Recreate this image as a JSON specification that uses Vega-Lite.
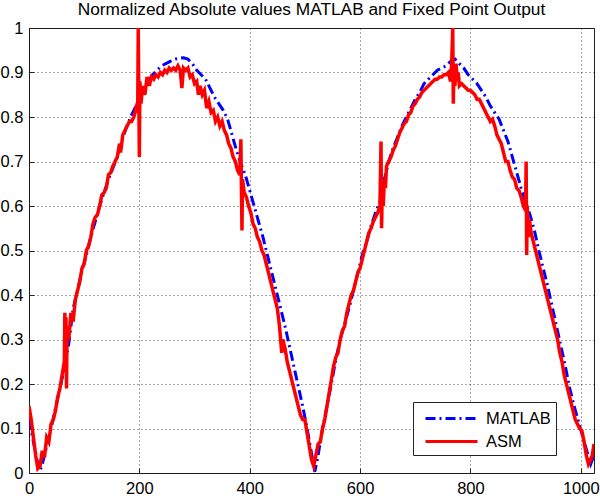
{
  "$schema": "https://vega.github.io/schema/vega-lite/v6.json",
  "width": 565,
  "height": 445,
  "autosize": {"type": "none"},
  "padding": {"left": 29, "top": 28, "right": 6, "bottom": 26},
  "background": "white",
  "title": {"text": "Normalized Absolute values MATLAB and Fixed Point Output", "fontSize": 17.3, "font": "Liberation Sans", "fontWeight": "normal", "color": "black", "offset": -12, "anchor": "middle", "baseline": "alphabetic", "frame": "group"},
  "config": {
    "view": {"stroke": "#222", "strokeWidth": 1},
    "axis": {"labelFont": "Liberation Sans", "labelFontSize": 16.5, "labelColor": "black", "domain": false, "grid": true, "gridColor": "#000", "gridDash": [1, 3], "gridOpacity": 0.7, "gridWidth": 1, "ticks": true, "tickSize": -5, "tickColor": "#222", "title": null}
  },
  "datasets": {
    "matlab": [
      {"series":"MATLAB","x":0,"y":0.12},{"series":"MATLAB","x":8,"y":0.07},{"series":"MATLAB","x":16,"y":0.02},{"series":"MATLAB","x":20,"y":0.005},{"series":"MATLAB","x":24,"y":0.02},{"series":"MATLAB","x":32,"y":0.06},{"series":"MATLAB","x":40,"y":0.1},{"series":"MATLAB","x":48,"y":0.145},{"series":"MATLAB","x":56,"y":0.19},{"series":"MATLAB","x":64,"y":0.235},{"series":"MATLAB","x":72,"y":0.29},{"series":"MATLAB","x":80,"y":0.37},{"series":"MATLAB","x":88,"y":0.41},{"series":"MATLAB","x":96,"y":0.455},{"series":"MATLAB","x":104,"y":0.49},{"series":"MATLAB","x":112,"y":0.53},{"series":"MATLAB","x":120,"y":0.565},{"series":"MATLAB","x":128,"y":0.6},{"series":"MATLAB","x":136,"y":0.63},{"series":"MATLAB","x":144,"y":0.66},{"series":"MATLAB","x":152,"y":0.685},{"series":"MATLAB","x":160,"y":0.71},{"series":"MATLAB","x":168,"y":0.745},{"series":"MATLAB","x":176,"y":0.775},{"series":"MATLAB","x":184,"y":0.8},{"series":"MATLAB","x":192,"y":0.82},{"series":"MATLAB","x":200,"y":0.84},{"series":"MATLAB","x":208,"y":0.86},{"series":"MATLAB","x":216,"y":0.88},{"series":"MATLAB","x":224,"y":0.895},{"series":"MATLAB","x":232,"y":0.905},{"series":"MATLAB","x":240,"y":0.915},{"series":"MATLAB","x":248,"y":0.92},{"series":"MATLAB","x":256,"y":0.925},{"series":"MATLAB","x":264,"y":0.93},{"series":"MATLAB","x":272,"y":0.932},{"series":"MATLAB","x":280,"y":0.933},{"series":"MATLAB","x":288,"y":0.93},{"series":"MATLAB","x":296,"y":0.92},{"series":"MATLAB","x":304,"y":0.905},{"series":"MATLAB","x":312,"y":0.895},{"series":"MATLAB","x":320,"y":0.885},{"series":"MATLAB","x":328,"y":0.865},{"series":"MATLAB","x":336,"y":0.845},{"series":"MATLAB","x":344,"y":0.83},{"series":"MATLAB","x":352,"y":0.815},{"series":"MATLAB","x":360,"y":0.795},{"series":"MATLAB","x":368,"y":0.76},{"series":"MATLAB","x":376,"y":0.725},{"series":"MATLAB","x":384,"y":0.695},{"series":"MATLAB","x":392,"y":0.67},{"series":"MATLAB","x":400,"y":0.635},{"series":"MATLAB","x":408,"y":0.6},{"series":"MATLAB","x":416,"y":0.565},{"series":"MATLAB","x":424,"y":0.53},{"series":"MATLAB","x":432,"y":0.49},{"series":"MATLAB","x":440,"y":0.45},{"series":"MATLAB","x":448,"y":0.41},{"series":"MATLAB","x":456,"y":0.37},{"series":"MATLAB","x":464,"y":0.33},{"series":"MATLAB","x":472,"y":0.285},{"series":"MATLAB","x":480,"y":0.24},{"series":"MATLAB","x":488,"y":0.195},{"series":"MATLAB","x":496,"y":0.15},{"series":"MATLAB","x":504,"y":0.1},{"series":"MATLAB","x":512,"y":0.045},{"series":"MATLAB","x":518,"y":0.003},{"series":"MATLAB","x":524,"y":0.04},{"series":"MATLAB","x":532,"y":0.1},{"series":"MATLAB","x":540,"y":0.15},{"series":"MATLAB","x":548,"y":0.2},{"series":"MATLAB","x":556,"y":0.255},{"series":"MATLAB","x":564,"y":0.3},{"series":"MATLAB","x":572,"y":0.335},{"series":"MATLAB","x":580,"y":0.37},{"series":"MATLAB","x":588,"y":0.41},{"series":"MATLAB","x":596,"y":0.45},{"series":"MATLAB","x":604,"y":0.49},{"series":"MATLAB","x":612,"y":0.52},{"series":"MATLAB","x":620,"y":0.555},{"series":"MATLAB","x":628,"y":0.585},{"series":"MATLAB","x":636,"y":0.61},{"series":"MATLAB","x":644,"y":0.66},{"series":"MATLAB","x":652,"y":0.7},{"series":"MATLAB","x":660,"y":0.73},{"series":"MATLAB","x":668,"y":0.755},{"series":"MATLAB","x":676,"y":0.78},{"series":"MATLAB","x":684,"y":0.8},{"series":"MATLAB","x":692,"y":0.82},{"series":"MATLAB","x":700,"y":0.84},{"series":"MATLAB","x":708,"y":0.855},{"series":"MATLAB","x":716,"y":0.875},{"series":"MATLAB","x":724,"y":0.885},{"series":"MATLAB","x":732,"y":0.895},{"series":"MATLAB","x":740,"y":0.905},{"series":"MATLAB","x":748,"y":0.91},{"series":"MATLAB","x":756,"y":0.915},{"series":"MATLAB","x":764,"y":0.925},{"series":"MATLAB","x":772,"y":0.93},{"series":"MATLAB","x":780,"y":0.92},{"series":"MATLAB","x":788,"y":0.91},{"series":"MATLAB","x":796,"y":0.895},{"series":"MATLAB","x":804,"y":0.885},{"series":"MATLAB","x":812,"y":0.875},{"series":"MATLAB","x":820,"y":0.86},{"series":"MATLAB","x":828,"y":0.845},{"series":"MATLAB","x":836,"y":0.825},{"series":"MATLAB","x":844,"y":0.81},{"series":"MATLAB","x":852,"y":0.795},{"series":"MATLAB","x":860,"y":0.77},{"series":"MATLAB","x":868,"y":0.745},{"series":"MATLAB","x":876,"y":0.71},{"series":"MATLAB","x":884,"y":0.675},{"series":"MATLAB","x":892,"y":0.64},{"series":"MATLAB","x":900,"y":0.61},{"series":"MATLAB","x":908,"y":0.58},{"series":"MATLAB","x":916,"y":0.545},{"series":"MATLAB","x":924,"y":0.5},{"series":"MATLAB","x":932,"y":0.46},{"series":"MATLAB","x":940,"y":0.42},{"series":"MATLAB","x":948,"y":0.375},{"series":"MATLAB","x":956,"y":0.33},{"series":"MATLAB","x":964,"y":0.285},{"series":"MATLAB","x":972,"y":0.24},{"series":"MATLAB","x":980,"y":0.19},{"series":"MATLAB","x":988,"y":0.15},{"series":"MATLAB","x":996,"y":0.115},{"series":"MATLAB","x":1004,"y":0.08},{"series":"MATLAB","x":1012,"y":0.045},{"series":"MATLAB","x":1018,"y":0.02},{"series":"MATLAB","x":1024,"y":0.04}
    ],
    "asm": [
      {"series":"ASM","x":0,"y":0.15},{"series":"ASM","x":4,"y":0.12},{"series":"ASM","x":8,"y":0.08},{"series":"ASM","x":12,"y":0.04},{"series":"ASM","x":16,"y":0.01},{"series":"ASM","x":20,"y":0.015},{"series":"ASM","x":24,"y":0.05},{"series":"ASM","x":28,"y":0.035},{"series":"ASM","x":32,"y":0.08},{"series":"ASM","x":36,"y":0.07},{"series":"ASM","x":40,"y":0.11},{"series":"ASM","x":44,"y":0.12},{"series":"ASM","x":48,"y":0.14},{"series":"ASM","x":52,"y":0.17},{"series":"ASM","x":56,"y":0.19},{"series":"ASM","x":60,"y":0.22},{"series":"ASM","x":64,"y":0.25},{"series":"ASM","x":65,"y":0.36},{"series":"ASM","x":66,"y":0.26},{"series":"ASM","x":67,"y":0.35},{"series":"ASM","x":68,"y":0.19},{"series":"ASM","x":69,"y":0.33},{"series":"ASM","x":72,"y":0.3},{"series":"ASM","x":76,"y":0.36},{"series":"ASM","x":80,"y":0.34},{"series":"ASM","x":84,"y":0.39},{"series":"ASM","x":88,"y":0.41},{"series":"ASM","x":92,"y":0.43},{"series":"ASM","x":96,"y":0.46},{"series":"ASM","x":100,"y":0.47},{"series":"ASM","x":104,"y":0.5},{"series":"ASM","x":108,"y":0.51},{"series":"ASM","x":112,"y":0.53},{"series":"ASM","x":116,"y":0.56},{"series":"ASM","x":120,"y":0.575},{"series":"ASM","x":124,"y":0.58},{"series":"ASM","x":128,"y":0.6},{"series":"ASM","x":132,"y":0.625},{"series":"ASM","x":136,"y":0.63},{"series":"ASM","x":140,"y":0.64},{"series":"ASM","x":144,"y":0.67},{"series":"ASM","x":148,"y":0.675},{"series":"ASM","x":152,"y":0.69},{"series":"ASM","x":156,"y":0.7},{"series":"ASM","x":160,"y":0.71},{"series":"ASM","x":164,"y":0.74},{"series":"ASM","x":166,"y":0.72},{"series":"ASM","x":170,"y":0.76},{"series":"ASM","x":174,"y":0.77},{"series":"ASM","x":178,"y":0.78},{"series":"ASM","x":182,"y":0.79},{"series":"ASM","x":186,"y":0.79},{"series":"ASM","x":190,"y":0.8},{"series":"ASM","x":194,"y":0.82},{"series":"ASM","x":197,"y":0.81},{"series":"ASM","x":198,"y":1.0},{"series":"ASM","x":199,"y":0.85},{"series":"ASM","x":200,"y":0.71},{"series":"ASM","x":201,"y":0.88},{"series":"ASM","x":203,"y":0.83},{"series":"ASM","x":206,"y":0.87},{"series":"ASM","x":210,"y":0.85},{"series":"ASM","x":214,"y":0.89},{"series":"ASM","x":218,"y":0.87},{"series":"ASM","x":222,"y":0.89},{"series":"ASM","x":226,"y":0.885},{"series":"ASM","x":230,"y":0.895},{"series":"ASM","x":234,"y":0.89},{"series":"ASM","x":238,"y":0.9},{"series":"ASM","x":242,"y":0.895},{"series":"ASM","x":246,"y":0.905},{"series":"ASM","x":250,"y":0.9},{"series":"ASM","x":254,"y":0.91},{"series":"ASM","x":258,"y":0.905},{"series":"ASM","x":262,"y":0.91},{"series":"ASM","x":266,"y":0.905},{"series":"ASM","x":270,"y":0.915},{"series":"ASM","x":274,"y":0.905},{"series":"ASM","x":277,"y":0.865},{"series":"ASM","x":280,"y":0.91},{"series":"ASM","x":284,"y":0.905},{"series":"ASM","x":288,"y":0.91},{"series":"ASM","x":292,"y":0.89},{"series":"ASM","x":296,"y":0.895},{"series":"ASM","x":300,"y":0.875},{"series":"ASM","x":304,"y":0.88},{"series":"ASM","x":307,"y":0.85},{"series":"ASM","x":310,"y":0.87},{"series":"ASM","x":314,"y":0.85},{"series":"ASM","x":318,"y":0.86},{"series":"ASM","x":322,"y":0.82},{"series":"ASM","x":326,"y":0.835},{"series":"ASM","x":330,"y":0.81},{"series":"ASM","x":334,"y":0.815},{"series":"ASM","x":338,"y":0.79},{"series":"ASM","x":342,"y":0.8},{"series":"ASM","x":346,"y":0.78},{"series":"ASM","x":350,"y":0.79},{"series":"ASM","x":354,"y":0.77},{"series":"ASM","x":358,"y":0.76},{"series":"ASM","x":362,"y":0.74},{"series":"ASM","x":366,"y":0.73},{"series":"ASM","x":370,"y":0.71},{"series":"ASM","x":374,"y":0.7},{"series":"ASM","x":378,"y":0.68},{"series":"ASM","x":382,"y":0.67},{"series":"ASM","x":384,"y":0.75},{"series":"ASM","x":385,"y":0.64},{"series":"ASM","x":386,"y":0.545},{"series":"ASM","x":387,"y":0.66},{"series":"ASM","x":390,"y":0.63},{"series":"ASM","x":394,"y":0.62},{"series":"ASM","x":398,"y":0.6},{"series":"ASM","x":402,"y":0.585},{"series":"ASM","x":406,"y":0.56},{"series":"ASM","x":410,"y":0.55},{"series":"ASM","x":414,"y":0.53},{"series":"ASM","x":418,"y":0.52},{"series":"ASM","x":422,"y":0.5},{"series":"ASM","x":426,"y":0.49},{"series":"ASM","x":430,"y":0.47},{"series":"ASM","x":434,"y":0.45},{"series":"ASM","x":438,"y":0.43},{"series":"ASM","x":442,"y":0.41},{"series":"ASM","x":446,"y":0.39},{"series":"ASM","x":450,"y":0.37},{"series":"ASM","x":454,"y":0.33},{"series":"ASM","x":458,"y":0.27},{"series":"ASM","x":460,"y":0.3},{"series":"ASM","x":464,"y":0.28},{"series":"ASM","x":468,"y":0.25},{"series":"ASM","x":472,"y":0.23},{"series":"ASM","x":476,"y":0.21},{"series":"ASM","x":480,"y":0.19},{"series":"ASM","x":484,"y":0.17},{"series":"ASM","x":488,"y":0.15},{"series":"ASM","x":492,"y":0.13},{"series":"ASM","x":496,"y":0.12},{"series":"ASM","x":500,"y":0.12},{"series":"ASM","x":504,"y":0.09},{"series":"ASM","x":508,"y":0.06},{"series":"ASM","x":512,"y":0.03},{"series":"ASM","x":516,"y":0.015},{"series":"ASM","x":520,"y":0.04},{"series":"ASM","x":524,"y":0.065},{"series":"ASM","x":528,"y":0.07},{"series":"ASM","x":532,"y":0.1},{"series":"ASM","x":536,"y":0.12},{"series":"ASM","x":540,"y":0.15},{"series":"ASM","x":544,"y":0.18},{"series":"ASM","x":548,"y":0.21},{"series":"ASM","x":552,"y":0.24},{"series":"ASM","x":556,"y":0.26},{"series":"ASM","x":560,"y":0.27},{"series":"ASM","x":564,"y":0.3},{"series":"ASM","x":568,"y":0.32},{"series":"ASM","x":572,"y":0.33},{"series":"ASM","x":576,"y":0.36},{"series":"ASM","x":580,"y":0.38},{"series":"ASM","x":584,"y":0.4},{"series":"ASM","x":588,"y":0.41},{"series":"ASM","x":592,"y":0.43},{"series":"ASM","x":596,"y":0.45},{"series":"ASM","x":600,"y":0.46},{"series":"ASM","x":604,"y":0.48},{"series":"ASM","x":608,"y":0.5},{"series":"ASM","x":612,"y":0.52},{"series":"ASM","x":616,"y":0.54},{"series":"ASM","x":620,"y":0.55},{"series":"ASM","x":624,"y":0.565},{"series":"ASM","x":628,"y":0.575},{"series":"ASM","x":632,"y":0.585},{"series":"ASM","x":636,"y":0.6},{"series":"ASM","x":638,"y":0.745},{"series":"ASM","x":639,"y":0.55},{"series":"ASM","x":640,"y":0.62},{"series":"ASM","x":642,"y":0.6},{"series":"ASM","x":644,"y":0.66},{"series":"ASM","x":646,"y":0.64},{"series":"ASM","x":648,"y":0.69},{"series":"ASM","x":652,"y":0.7},{"series":"ASM","x":656,"y":0.71},{"series":"ASM","x":660,"y":0.725},{"series":"ASM","x":664,"y":0.735},{"series":"ASM","x":668,"y":0.75},{"series":"ASM","x":672,"y":0.765},{"series":"ASM","x":676,"y":0.775},{"series":"ASM","x":680,"y":0.785},{"series":"ASM","x":684,"y":0.79},{"series":"ASM","x":688,"y":0.805},{"series":"ASM","x":692,"y":0.81},{"series":"ASM","x":696,"y":0.825},{"series":"ASM","x":700,"y":0.83},{"series":"ASM","x":704,"y":0.84},{"series":"ASM","x":708,"y":0.845},{"series":"ASM","x":712,"y":0.855},{"series":"ASM","x":716,"y":0.86},{"series":"ASM","x":720,"y":0.865},{"series":"ASM","x":724,"y":0.87},{"series":"ASM","x":728,"y":0.875},{"series":"ASM","x":732,"y":0.88},{"series":"ASM","x":736,"y":0.885},{"series":"ASM","x":740,"y":0.885},{"series":"ASM","x":744,"y":0.89},{"series":"ASM","x":748,"y":0.89},{"series":"ASM","x":752,"y":0.895},{"series":"ASM","x":756,"y":0.895},{"series":"ASM","x":760,"y":0.9},{"series":"ASM","x":764,"y":0.88},{"series":"ASM","x":766,"y":0.92},{"series":"ASM","x":768,"y":1.0},{"series":"ASM","x":769,"y":0.83},{"series":"ASM","x":770,"y":0.91},{"series":"ASM","x":772,"y":0.87},{"series":"ASM","x":774,"y":0.92},{"series":"ASM","x":776,"y":0.88},{"series":"ASM","x":778,"y":0.9},{"series":"ASM","x":780,"y":0.87},{"series":"ASM","x":784,"y":0.875},{"series":"ASM","x":788,"y":0.87},{"series":"ASM","x":792,"y":0.865},{"series":"ASM","x":796,"y":0.86},{"series":"ASM","x":800,"y":0.86},{"series":"ASM","x":804,"y":0.855},{"series":"ASM","x":808,"y":0.85},{"series":"ASM","x":812,"y":0.84},{"series":"ASM","x":816,"y":0.84},{"series":"ASM","x":820,"y":0.83},{"series":"ASM","x":824,"y":0.82},{"series":"ASM","x":828,"y":0.81},{"series":"ASM","x":832,"y":0.8},{"series":"ASM","x":836,"y":0.79},{"series":"ASM","x":840,"y":0.795},{"series":"ASM","x":844,"y":0.78},{"series":"ASM","x":848,"y":0.76},{"series":"ASM","x":852,"y":0.75},{"series":"ASM","x":856,"y":0.74},{"series":"ASM","x":860,"y":0.72},{"series":"ASM","x":864,"y":0.7},{"series":"ASM","x":868,"y":0.7},{"series":"ASM","x":872,"y":0.68},{"series":"ASM","x":876,"y":0.665},{"series":"ASM","x":880,"y":0.66},{"series":"ASM","x":884,"y":0.64},{"series":"ASM","x":888,"y":0.635},{"series":"ASM","x":892,"y":0.62},{"series":"ASM","x":896,"y":0.6},{"series":"ASM","x":900,"y":0.59},{"series":"ASM","x":901,"y":0.7},{"series":"ASM","x":902,"y":0.49},{"series":"ASM","x":903,"y":0.6},{"series":"ASM","x":905,"y":0.53},{"series":"ASM","x":907,"y":0.57},{"series":"ASM","x":910,"y":0.54},{"series":"ASM","x":914,"y":0.52},{"series":"ASM","x":918,"y":0.5},{"series":"ASM","x":922,"y":0.48},{"series":"ASM","x":926,"y":0.46},{"series":"ASM","x":930,"y":0.44},{"series":"ASM","x":934,"y":0.42},{"series":"ASM","x":938,"y":0.4},{"series":"ASM","x":942,"y":0.38},{"series":"ASM","x":946,"y":0.36},{"series":"ASM","x":950,"y":0.34},{"series":"ASM","x":954,"y":0.32},{"series":"ASM","x":958,"y":0.3},{"series":"ASM","x":962,"y":0.27},{"series":"ASM","x":966,"y":0.25},{"series":"ASM","x":970,"y":0.22},{"series":"ASM","x":974,"y":0.2},{"series":"ASM","x":978,"y":0.18},{"series":"ASM","x":982,"y":0.16},{"series":"ASM","x":986,"y":0.14},{"series":"ASM","x":990,"y":0.12},{"series":"ASM","x":994,"y":0.11},{"series":"ASM","x":998,"y":0.1},{"series":"ASM","x":1002,"y":0.095},{"series":"ASM","x":1006,"y":0.07},{"series":"ASM","x":1010,"y":0.04},{"series":"ASM","x":1014,"y":0.02},{"series":"ASM","x":1018,"y":0.03},{"series":"ASM","x":1021,"y":0.04},{"series":"ASM","x":1024,"y":0.065}
    ]
  },
  "encoding": {
    "x": {"field": "x", "type": "quantitative", "scale": {"domain": [0, 1024], "nice": false, "zero": false}, "axis": {"values": [0, 200, 400, 600, 800, 1000], "format": "d", "labelPadding": 12, "labelFlush": false}},
    "y": {"field": "y", "type": "quantitative", "scale": {"domain": [0, 1], "nice": false}, "axis": {"values": [0, 0.1, 0.2, 0.3, 0.4, 0.5, 0.6, 0.7, 0.8, 0.9, 1], "format": "~g", "labelPadding": 11, "labelFlush": false}},
    "color": {"field": "series", "type": "nominal", "scale": {"domain": ["MATLAB", "ASM"], "range": ["#0000ff", "#ff0000"]}, "legend": {"title": null, "orient": "none", "legendX": 384, "legendY": 374, "symbolType": "M-0.4,0H4.8", "symbolSize": 400, "symbolStrokeWidth": 3, "labelFont": "Liberation Sans", "labelFontSize": 16.5, "labelColor": "black", "strokeColor": "#222", "fillColor": "white", "padding": 5, "rowPadding": 3, "labelOffset": 45}},
    "strokeDash": {"field": "series", "type": "nominal", "scale": {"domain": ["MATLAB", "ASM"], "range": [[10, 4, 2, 4], [1, 0]]}, "legend": {"title": null}}
  },
  "layer": [
    {"data": {"name": "matlab"}, "mark": {"type": "line", "strokeWidth": 3, "clip": true}},
    {"data": {"name": "asm"}, "mark": {"type": "line", "strokeWidth": 3.5, "clip": true}}
  ]
}
